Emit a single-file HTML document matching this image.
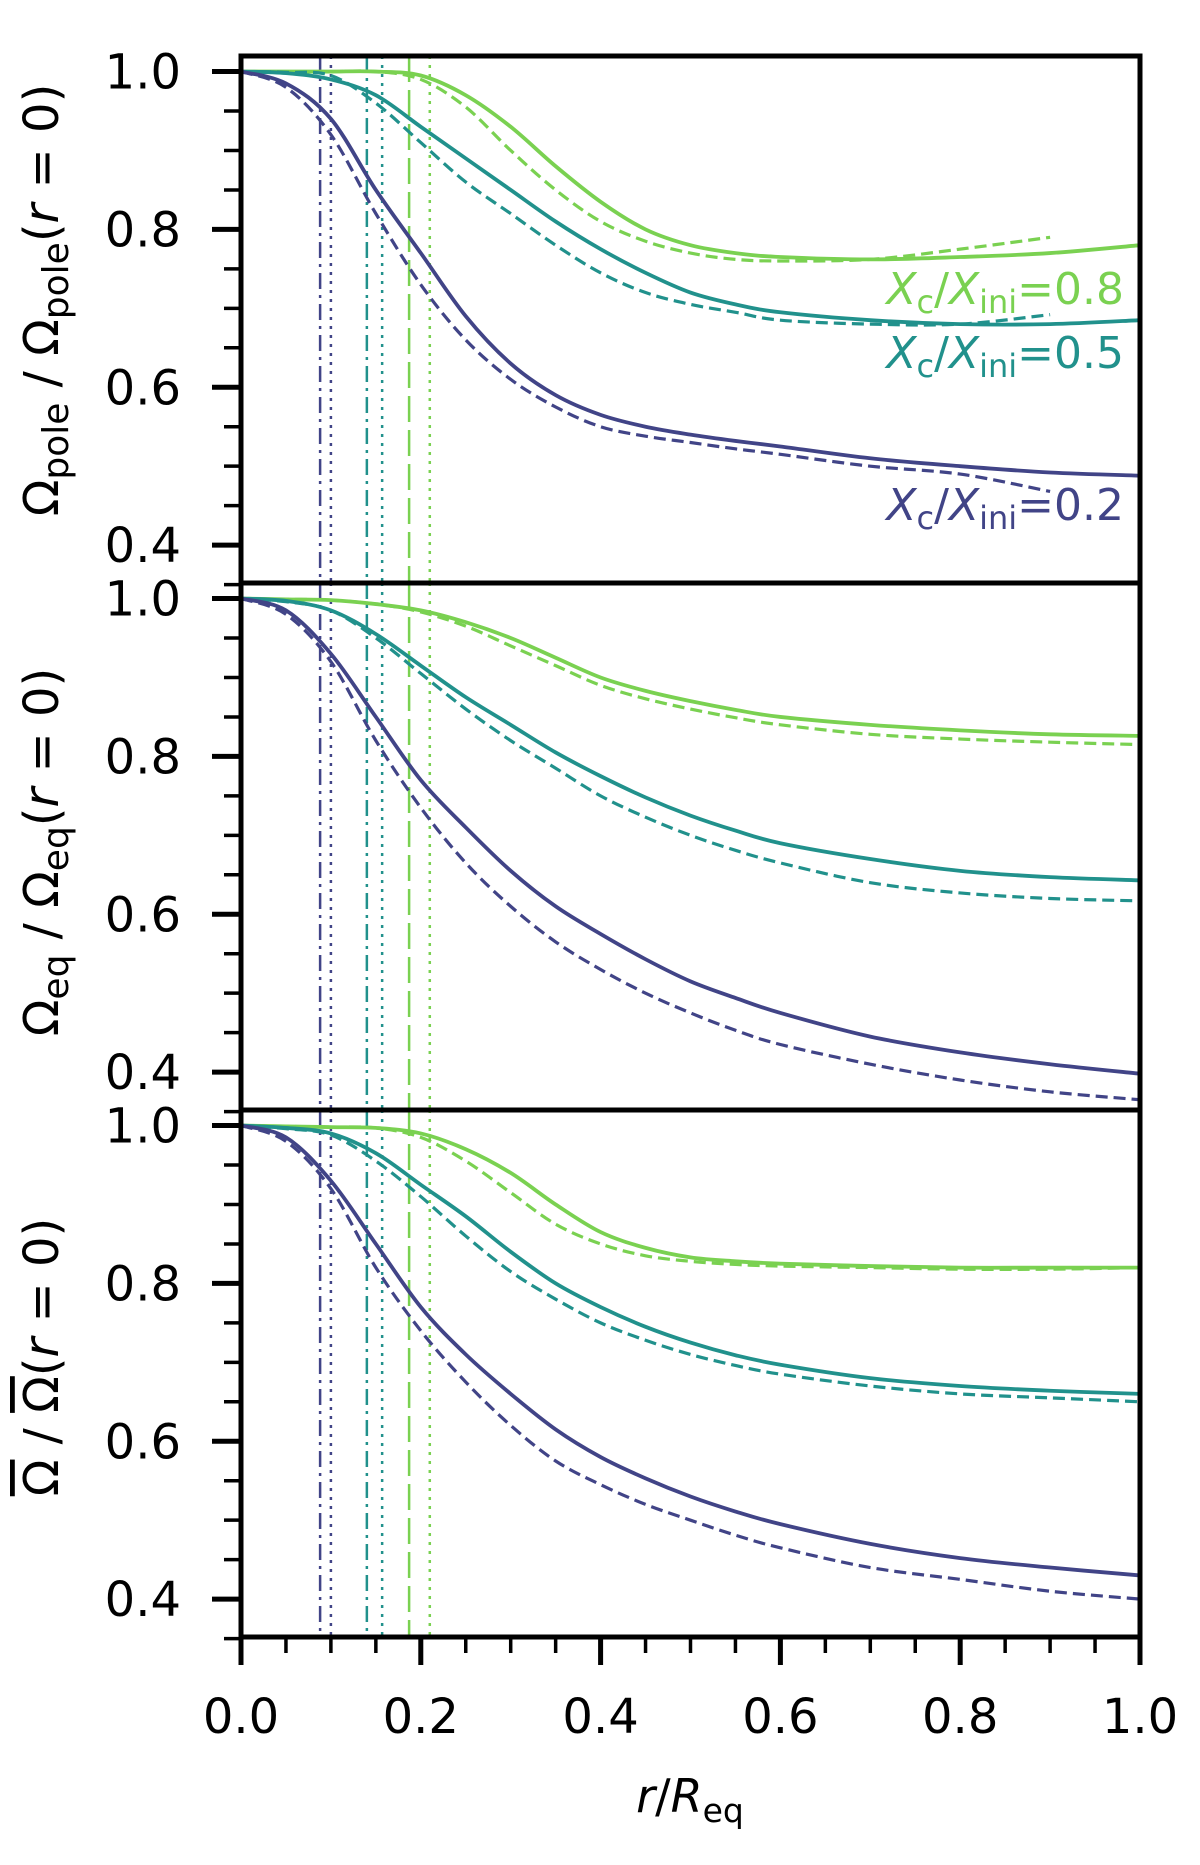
<!DOCTYPE html>
<html><head><meta charset="utf-8"><style>
body{margin:0;background:#fff}
svg text{font-family:"DejaVu Sans","Liberation Sans",sans-serif}
</style></head><body>
<svg id="chart" width="1200" height="1860" viewBox="0 0 1200 1860" xmlns="http://www.w3.org/2000/svg"></svg>
<script>
const xs = [0,0.05,0.1,0.15,0.2,0.25,0.3,0.35,0.4,0.45,0.5,0.55,0.6,0.7,0.8,0.9,1.0];
// panel 1: Omega_pole
const p1PurpleSolid = [1,0.985,0.94,0.85,0.77,0.69,0.63,0.59,0.565,0.55,0.54,0.532,0.525,0.51,0.5,0.492,0.488];
const p1PurpleDash  = [1,0.98,0.92,0.82,0.73,0.66,0.61,0.575,0.55,0.538,0.53,0.522,0.515,0.5,0.49,0.468,null];
const p1TealSolid   = [1,0.998,0.99,0.97,0.93,0.89,0.85,0.81,0.775,0.745,0.72,0.705,0.695,0.685,0.68,0.68,0.685];
const p1TealDash    = [1,0.999,0.995,0.96,0.91,0.86,0.82,0.78,0.745,0.72,0.705,0.695,0.685,0.68,0.68,0.692,null];
const p1GreenSolid  = [1,1,1,1,0.995,0.97,0.93,0.88,0.835,0.8,0.78,0.77,0.765,0.762,0.765,0.77,0.78];
const p1GreenDash   = [1,1,1,1,0.99,0.955,0.9,0.85,0.81,0.785,0.77,0.762,0.76,0.762,0.775,0.79,null];
// panel 2: Omega_eq
const p2PurpleSolid = [1,0.985,0.93,0.85,0.77,0.71,0.655,0.61,0.575,0.543,0.515,0.494,0.475,0.445,0.425,0.41,0.398];
const p2PurpleDash  = [1,0.98,0.92,0.82,0.735,0.665,0.61,0.565,0.53,0.5,0.475,0.453,0.435,0.41,0.39,0.375,0.365];
const p2TealSolid   = [1,0.997,0.985,0.955,0.915,0.875,0.84,0.805,0.775,0.748,0.725,0.706,0.69,0.67,0.655,0.647,0.643];
const p2TealDash    = [1,0.996,0.985,0.95,0.905,0.86,0.82,0.785,0.75,0.723,0.7,0.681,0.665,0.64,0.627,0.62,0.617];
const p2GreenSolid  = [1,0.999,0.998,0.993,0.985,0.97,0.95,0.925,0.9,0.883,0.87,0.859,0.85,0.84,0.833,0.828,0.826];
const p2GreenDash   = [1,0.999,0.998,0.993,0.983,0.965,0.94,0.915,0.89,0.873,0.86,0.849,0.84,0.828,0.822,0.818,0.815];
// panel 3: mean Omega
const p3PurpleSolid = [1,0.985,0.93,0.85,0.77,0.71,0.66,0.615,0.58,0.553,0.53,0.511,0.495,0.47,0.452,0.44,0.43];
const p3PurpleDash  = [1,0.98,0.92,0.82,0.74,0.675,0.62,0.575,0.545,0.52,0.5,0.481,0.465,0.44,0.425,0.41,0.4];
const p3TealSolid   = [1,0.997,0.99,0.965,0.925,0.885,0.84,0.8,0.77,0.745,0.725,0.709,0.697,0.68,0.67,0.664,0.66];
const p3TealDash    = [1,0.996,0.988,0.955,0.91,0.86,0.815,0.78,0.75,0.728,0.71,0.696,0.685,0.67,0.66,0.655,0.65];
const p3GreenSolid  = [1,0.999,0.998,0.997,0.99,0.97,0.94,0.9,0.865,0.845,0.833,0.828,0.825,0.822,0.82,0.82,0.82];
const p3GreenDash   = [1,0.999,0.998,0.997,0.985,0.955,0.915,0.875,0.85,0.835,0.828,0.824,0.822,0.82,0.818,0.818,0.82];
const vlinesX = [0.088,0.1,0.14,0.157,0.187,0.21];
const xTicks = [0,0.2,0.4,0.6,0.8,1.0];
const xTickLabels = ["0.0","0.2","0.4","0.6","0.8","1.0"];
const yTicks = [0.4,0.6,0.8,1.0];
const yTickLabels = ["0.4","0.6","0.8","1.0"];
const legendLabels = ["0.8","0.5","0.2"];

const NS="http://www.w3.org/2000/svg";
const svg=document.getElementById('chart');
const C={p:'#414487',t:'#21918c',g:'#7ad151'};
const L=241,R=1140,PT=[56,583,1110],PH=527,YMAX=1.0197,YMIN=0.352;
const xScale=v=>L+v*(R-L);
function mk(tag,attrs,parent){const e=document.createElementNS(NS,tag);for(const k in attrs)e.setAttribute(k,attrs[k]);(parent||svg).appendChild(e);return e;}
function pathFrom(xa,ya,ys){
  const pts=[];for(let i=0;i<xa.length;i++){if(ya[i]!=null)pts.push([xScale(xa[i]),ys(ya[i])]);}
  let d=`M${pts[0][0]},${pts[0][1]}`;
  for(let i=0;i<pts.length-1;i++){
    const p0=pts[Math.max(0,i-1)],p1=pts[i],p2=pts[i+1],p3=pts[Math.min(pts.length-1,i+2)];
    const c1=[p1[0]+(p2[0]-p0[0])/6,p1[1]+(p2[1]-p0[1])/6],c2=[p2[0]-(p3[0]-p1[0])/6,p2[1]-(p3[1]-p1[1])/6];
    d+=` C${c1[0]},${c1[1]} ${c2[0]},${c2[1]} ${p2[0]},${p2[1]}`;
  }
  return d;
}
const panels=[
 {series:[[p1GreenSolid,'g',0],[p1GreenDash,'g',1],[p1TealSolid,'t',0],[p1TealDash,'t',1],[p1PurpleSolid,'p',0],[p1PurpleDash,'p',1]],name:'pole'},
 {series:[[p2GreenSolid,'g',0],[p2GreenDash,'g',1],[p2TealSolid,'t',0],[p2TealDash,'t',1],[p2PurpleSolid,'p',0],[p2PurpleDash,'p',1]],name:'eq'},
 {series:[[p3GreenSolid,'g',0],[p3GreenDash,'g',1],[p3TealSolid,'t',0],[p3TealDash,'t',1],[p3PurpleSolid,'p',0],[p3PurpleDash,'p',1]],name:'mean'}
];
const vStyles=[['p','16,6,3,6'],['p','3,6'],['t','16,6,3,6'],['t','3,6'],['g','26,8'],['g','3,6']];
panels.forEach((pn,pi)=>{
  const top=PT[pi];
  const ys=v=>top+(YMAX-v)/(YMAX-YMIN)*PH;
  const g=mk('g',{});
  
  
  vlinesX.forEach((vx,i)=>{
    const l=mk('line',{x1:xScale(vx),x2:xScale(vx),y1:top,y2:top+PH,stroke:C[vStyles[i][0]],'stroke-width':2.5,'stroke-dasharray':vStyles[i][1]},g);
    
    
  });
  pn.series.forEach(s=>{
    const p=mk('path',{d:pathFrom(xs,s[0],ys),fill:'none',stroke:C[s[1]],'stroke-width':s[2]?3.2:3.8,'stroke-dasharray':s[2]?'12,6':'none'},g);
    
    
  });
  for(let v=0.35;v<=1.02;v+=0.05){
    const major=yTicks.some(t=>Math.abs(t-v)<1e-6);
    const t=mk('line',{x1:L-(major?29:17),x2:L,y1:ys(v),y2:ys(v),stroke:'#000','stroke-width':major?5:3.5},g);
    
    
  }
  yTicks.forEach((v,i)=>{
    const t=mk('text',{x:181,y:ys(v)+17,'text-anchor':'end','font-size':48},g);
    t.textContent=yTickLabels[i];
    
    
  });
  const fr=mk('rect',{x:L,y:top,width:R-L,height:PH,fill:'none',stroke:'#000','stroke-width':5},g);
  
  
});
for(let i=0;i<=20;i++){
  const v=i*0.05,major=i%4===0;
  const t=mk('line',{x1:xScale(v),x2:xScale(v),y1:PT[2]+PH,y2:PT[2]+PH+(major?28:16),stroke:'#000','stroke-width':major?5:3.5});
  
  
}
xTicks.forEach((v,i)=>{
  const t=mk('text',{x:xScale(v),y:1733,'text-anchor':'middle','font-size':48});
  t.textContent=xTickLabels[i];
  
  
});
const xt=mk('text',{x:690,y:1812,'text-anchor':'middle','font-size':46});
xt.innerHTML='<tspan font-style="italic">r</tspan>/<tspan font-style="italic">R</tspan><tspan font-size="33" dy="10">eq</tspan>';


const yTitles=[
 [300,'Ω<tspan font-size="36" dy="10">pole</tspan><tspan dy="-10"> / Ω</tspan><tspan font-size="36" dy="10">pole</tspan><tspan dy="-10">(</tspan><tspan font-style="italic">r</tspan> = 0)'],
 [852,'Ω<tspan font-size="36" dy="10">eq</tspan><tspan dy="-10"> / Ω</tspan><tspan font-size="36" dy="10">eq</tspan><tspan dy="-10">(</tspan><tspan font-style="italic">r</tspan> = 0)'],
 [1357,'<tspan text-decoration="overline">Ω</tspan> / <tspan text-decoration="overline">Ω</tspan>(<tspan font-style="italic">r</tspan> = 0)']
];
yTitles.forEach((yt,i)=>{
  const t=mk('text',{x:0,y:0,'text-anchor':'middle','font-size':48,transform:`translate(58,${yt[0]}) rotate(-90)`});
  t.innerHTML=yt[1];
  
  
});
const legY=[304,368,520],legC=['g','t','p'];
legendLabels.forEach((lb,i)=>{
  const t=mk('text',{x:1124,y:legY[i],'text-anchor':'end','font-size':44,fill:C[legC[i]]});
  t.innerHTML=`<tspan font-style="italic">X</tspan><tspan font-size="32" dy="9">c</tspan><tspan dy="-9">/</tspan><tspan font-style="italic">X</tspan><tspan font-size="32" dy="9">ini</tspan><tspan dy="-9">=${lb}</tspan>`;
  
  
});
</script>
</body></html>
